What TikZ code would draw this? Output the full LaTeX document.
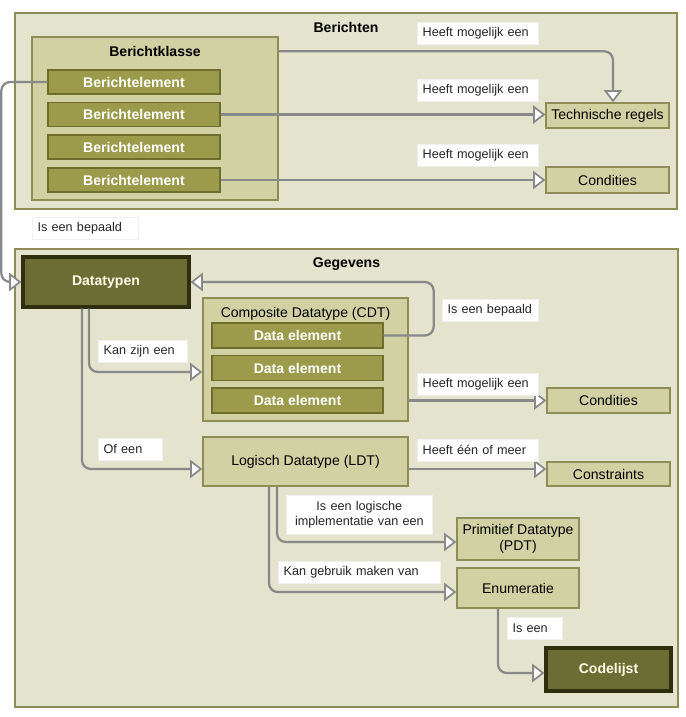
\documentclass[tikz,border=0pt]{standalone}
\usepackage{fontspec}
\setmainfont{Liberation Sans}
\usetikzlibrary{arrows.meta}

\definecolor{achter}{HTML}{E4E3CD}
\definecolor{rand}{HTML}{8E8D55}
\definecolor{licht}{HTML}{D2D1A3}
\definecolor{olijf}{HTML}{9C9B4B}
\definecolor{olijfrand}{HTML}{6E6D2C}
\definecolor{donker}{HTML}{6C6C35}
\definecolor{donkerrand}{HTML}{2E2F0F}
\definecolor{lijn}{HTML}{898989}

\begin{document}
\begin{tikzpicture}[x=0.02cm, y=-0.02cm,
  box/.style={draw, rectangle, inner sep=2pt, font=\fontsize{8}{9.5}\selectfont},
  outer/.style={box, fill=achter, draw=rand, line width=0.8pt},
  klasse/.style={box, fill=licht, draw=rand, line width=0.8pt},
  element/.style={box, fill=olijf, draw=olijfrand, line width=0.8pt, text=white, font=\fontsize{8}{9.5}\selectfont\bfseries},
  donkerbox/.style={box, fill=donker, draw=donkerrand, line width=1.8pt, text=white!90!yellow, font=\fontsize{8}{9.5}\selectfont\bfseries},
  titel/.style={anchor=north, yshift=-2pt, font=\fontsize{8}{9.5}\selectfont\bfseries},
  rel/.style={fill=white, draw=black!6, anchor=north west, align=left, inner xsep=3pt, inner ysep=1pt, minimum height=0.44cm, text=black!85, font=\fontsize{7.2}{8.6}\selectfont},
  conn/.style={draw=lijn, line width=1.3pt, rounded corners=5pt, -{Triangle[open, length=7pt, width=10.5pt, fill=white, line width=1pt]}}
]
\useasboundingbox (0,0) rectangle (686,717);

%the two big areas
\node[outer, minimum width=13.24cm, minimum height=3.92cm, label={[titel]north:Berichten}] (ber) at (346,111) {};
\node[outer, minimum width=13.26cm, minimum height=9.16cm, label={[titel]north:Gegevens}] (geg) at (346.5,478) {};

%Berichten
\node[klasse, minimum width=4.92cm, minimum height=3.26cm, label={[titel]north:Berichtklasse}] (bk) at (155,118.5) {};
\node[element, minimum width=3.44cm, minimum height=0.48cm] (be1) at (134,82) {Berichtelement};
\node[element, minimum width=3.44cm, minimum height=0.48cm] (be2) at (134,114.5) {Berichtelement};
\node[element, minimum width=3.44cm, minimum height=0.48cm] (be3) at (134,147) {Berichtelement};
\node[element, minimum width=3.44cm, minimum height=0.48cm] (be4) at (134,180) {Berichtelement};
\node[klasse, minimum width=2.46cm, minimum height=0.5cm] (tr) at (607.5,115.5) {Technische regels};
\node[klasse, minimum width=2.46cm, minimum height=0.52cm] (cd1) at (607.5,180) {Condities};

%Gegevens
\node[donkerbox, minimum width=3.32cm, minimum height=1.0cm] (dt) at (106,282) {Datatypen};
\node[klasse, minimum width=4.1cm, minimum height=2.46cm, label={[titel, font=\fontsize{8}{9.5}\selectfont]north:Composite Datatype (CDT)}] (cdt) at (305.5,359.5) {};
\node[element, minimum width=3.42cm, minimum height=0.5cm] (de1) at (297.5,335.5) {Data element};
\node[element, minimum width=3.42cm, minimum height=0.5cm] (de2) at (297.5,368) {Data element};
\node[element, minimum width=3.42cm, minimum height=0.5cm] (de3) at (297.5,400.5) {Data element};
\node[klasse, minimum width=4.1cm, minimum height=0.98cm] (ldt) at (305.5,461.5) {Logisch Datatype (LDT)};
\node[klasse, minimum width=2.46cm, minimum height=0.5cm] (cd2) at (608.5,400.5) {Condities};
\node[klasse, minimum width=2.46cm, minimum height=0.48cm] (cs) at (608.5,474) {Constraints};
\node[klasse, minimum width=2.44cm, minimum height=0.84cm, align=center] (pdt) at (518,539) {Primitief Datatype\\(PDT)};
\node[klasse, minimum width=2.44cm, minimum height=0.8cm] (en) at (518,588) {Enumeratie};
\node[donkerbox, minimum width=2.5cm, minimum height=0.86cm] (cl) at (608.5,669.5) {Codelijst};

%connectors
\draw[conn] ([yshift=-0.3cm]bk.north east) -| ([xshift=0.11cm]tr.north);
\draw[conn] (be2.east) -- (be2.east -| tr.west);
\draw[conn] (be4.east) -- (be4.east -| cd1.west);
\draw[conn] (be1.west) -- ++(-46,0) |- (dt.west);
\draw[conn] (de1.east) -- ++(50,0) |- (dt.east);
\draw[conn] ([xshift=-0.34cm]dt.south) |- ([yshift=-0.25cm]cdt.west);
\draw[conn] ([xshift=-0.48cm]dt.south) |- ([yshift=-0.15cm]ldt.west);
\draw[conn] (cdt.east |- cd2.west) -- (cd2.west);
\draw[conn] ([yshift=-0.15cm]ldt.east) -- ([yshift=-0.15cm]ldt.east -| cs.west);
\draw[conn] ([xshift=-0.57cm]ldt.south) |- ([yshift=-0.06cm]pdt.west);
\draw[conn] ([xshift=-0.73cm]ldt.south) |- ([yshift=-0.08cm]en.west);
\draw[conn] ([xshift=-0.4cm]en.south) |- ([yshift=-0.07cm]cl.west);

%labels on the connectors
\node[rel, text width=2.21cm] (l1) at (417,22) {Heeft mogelijk een};
\node[rel, text width=2.21cm] (l2) at (417,79) {Heeft mogelijk een};
\node[rel, text width=2.21cm] (l3) at (417,144) {Heeft mogelijk een};
\node[rel, text width=1.91cm] (l4) at (32,217) {Is een bepaald};
\node[rel, text width=1.71cm] (l5) at (442,299) {Is een bepaald};
\node[rel, text width=1.57cm] (l6) at (98,340) {Kan zijn een};
\node[rel, text width=2.21cm] (l7) at (417,373) {Heeft mogelijk een};
\node[rel, text width=1.07cm] (l8) at (98,438) {Of een};
\node[rel, text width=2.21cm] (l9) at (417,439) {Heeft één of meer};
\node[rel, text width=2.71cm, align=center, minimum height=0.78cm] (l10) at (286,495) {Is een logische\\implementatie van een};
\node[rel, text width=3.03cm] (l11) at (278,561) {Kan gebruik maken van};
\node[rel, text width=0.89cm] (l12) at (507,617) {Is een};
\end{tikzpicture}
\end{document}
